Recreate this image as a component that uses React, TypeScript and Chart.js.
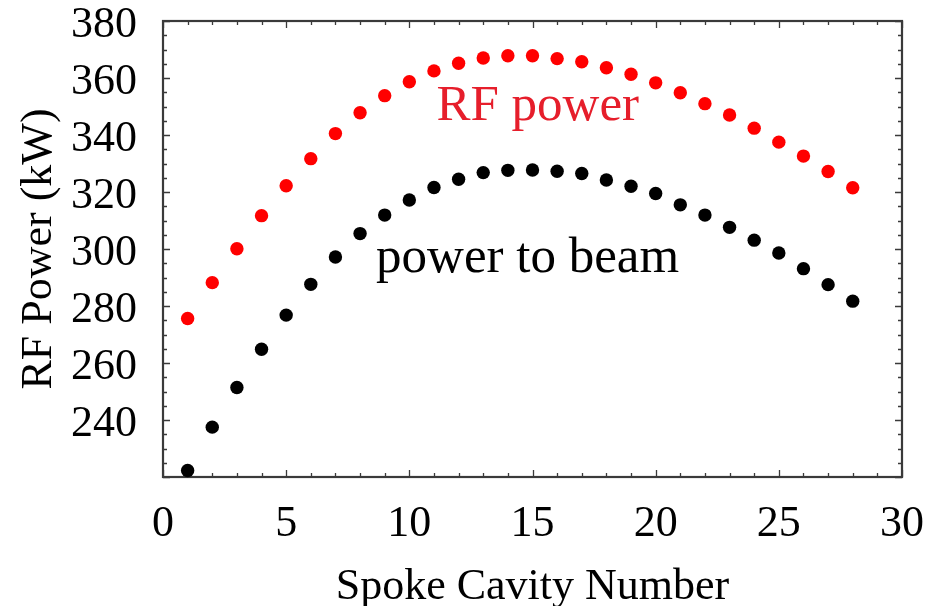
import React, { useEffect, useRef } from 'react';
import { Chart, registerables } from 'chart.js';

Chart.register(...registerables);

const cavityNumbers = [1, 2, 3, 4, 5, 6, 7, 8, 9, 10, 11, 12, 13, 14, 15, 16, 17, 18, 19, 20, 21, 22, 23, 24, 25, 26, 27, 28];
const rfPower = [275.6, 288.2, 300.1, 311.7, 322.2, 331.7, 340.5, 347.8, 353.8, 358.7, 362.5, 365.2, 367.0, 367.8, 367.8, 366.8, 365.7, 363.6, 361.3, 358.3, 354.8, 351.0, 347.0, 342.4, 337.5, 332.6, 327.2, 321.5];
const beamPower = [222.3, 237.5, 251.4, 264.8, 276.8, 287.6, 297.2, 305.4, 311.9, 317.2, 321.6, 324.5, 326.8, 327.6, 327.7, 327.3, 326.5, 324.2, 322.0, 319.5, 315.5, 311.9, 307.6, 303.1, 298.6, 293.1, 287.5, 281.7];
const seriesLabels = ['RF power', 'power to beam'];
const xTitle = 'Spoke Cavity Number';
const yTitle = 'RF Power (kW)';

const FONT = "'Liberation Serif', 'Times New Roman', serif";

const framePlugin = {
  id: 'frame',
  beforeDatasetsDraw(chart: any) {
    const { ctx, chartArea, scales } = chart;
    const { left, right, top, bottom } = chartArea;
    const x = scales.x;
    const y = scales.y;
    ctx.save();
    ctx.strokeStyle = '#3a3a3a';
    ctx.lineWidth = 1.3;
    ctx.beginPath();
    for (let v = 0; v <= 30; v += 1) {
      const px = Math.round(x.getPixelForValue(v)) + 0.5;
      const len = v % 5 === 0 ? 7 : 4;
      ctx.moveTo(px, bottom);
      ctx.lineTo(px, bottom - len);
      ctx.moveTo(px, top);
      ctx.lineTo(px, top + len);
    }
    for (let v = 220; v <= 380; v += 5) {
      const py = Math.round(y.getPixelForValue(v)) + 0.5;
      const len = v % 20 === 0 ? 7 : 4;
      ctx.moveTo(left, py);
      ctx.lineTo(left + len, py);
      ctx.moveTo(right, py);
      ctx.lineTo(right - len, py);
    }
    ctx.stroke();
    ctx.lineWidth = 2.2;
    ctx.strokeRect(left, top, right - left, bottom - top);
    ctx.restore();
  },
  afterDatasetsDraw(chart: any) {
    const { ctx, scales } = chart;
    const x = scales.x;
    const y = scales.y;
    ctx.save();
    ctx.textAlign = 'left';
    ctx.textBaseline = 'alphabetic';
    ctx.font = `51px ${FONT}`;
    ctx.fillStyle = '#e61e2b';
    ctx.fillText(seriesLabels[0], x.getPixelForValue(11.1), y.getPixelForValue(345.4));
    ctx.fillStyle = '#000000';
    ctx.fillText(seriesLabels[1], x.getPixelForValue(8.65), y.getPixelForValue(292));
    ctx.restore();
  },
};

export default function App() {
  const ref = useRef<HTMLCanvasElement>(null);
  useEffect(() => {
    const chart = new Chart(ref.current as HTMLCanvasElement, {
      type: 'scatter',
      data: {
        datasets: [
          {
            label: seriesLabels[0],
            data: cavityNumbers.map((c, i) => ({ x: c, y: rfPower[i] })),
            pointRadius: 6.7,
            pointBackgroundColor: '#ff0000',
            pointBorderWidth: 0,
            showLine: false,
            clip: false,
          },
          {
            label: seriesLabels[1],
            data: cavityNumbers.map((c, i) => ({ x: c, y: beamPower[i] })),
            pointRadius: 6.7,
            pointBackgroundColor: '#000000',
            pointBorderWidth: 0,
            showLine: false,
            clip: false,
          },
        ],
      },
      options: {
        animation: false,
        responsive: false,
        devicePixelRatio: 1,
        layout: { padding: { top: 21, right: 29, left: 0, bottom: 0 } },
        plugins: { legend: { display: false }, tooltip: { enabled: false } },
        scales: {
          x: {
            type: 'linear',
            min: 0,
            max: 30,
            grid: { display: false },
            border: { display: false },
            ticks: {
              stepSize: 5,
              padding: 17,
              color: '#000',
              font: { family: FONT, size: 44, lineHeight: 1 },
              maxRotation: 0,
            },
            title: {
              display: true,
              text: xTitle,
              color: '#000',
              font: { family: FONT, size: 44, lineHeight: 1 },
              padding: { top: 0, bottom: -3 },
            },
            afterFit(scale: any) {
              scale.height = 129;
              scale.paddingLeft = 0;
              scale.paddingRight = 0;
            },
          },
          y: {
            type: 'linear',
            min: 220,
            max: 380,
            grid: { display: false },
            border: { display: false },
            ticks: {
              stepSize: 20,
              padding: 18,
              labelOffset: 4,
              color: '#000',
              font: { family: FONT, size: 44, lineHeight: 1 },
              callback: (v: any) => (v === 220 ? '' : String(v)),
            },
            title: {
              display: true,
              text: yTitle,
              color: '#000',
              font: { family: FONT, size: 44, lineHeight: 1 },
              padding: { top: 17, bottom: 0 },
            },
            afterFit(scale: any) {
              scale.width = 163;
              scale.paddingTop = 0;
              scale.paddingBottom = 0;
            },
          },
        },
      },
      plugins: [framePlugin],
    });
    return () => chart.destroy();
  }, []);
  return (
    <div style={{ position: 'fixed', left: 0, top: 0, width: 931, height: 606, background: '#fff' }}>
      <canvas ref={ref} width={931} height={606} style={{ display: 'block', width: 931, height: 606 }} />
    </div>
  );
}
